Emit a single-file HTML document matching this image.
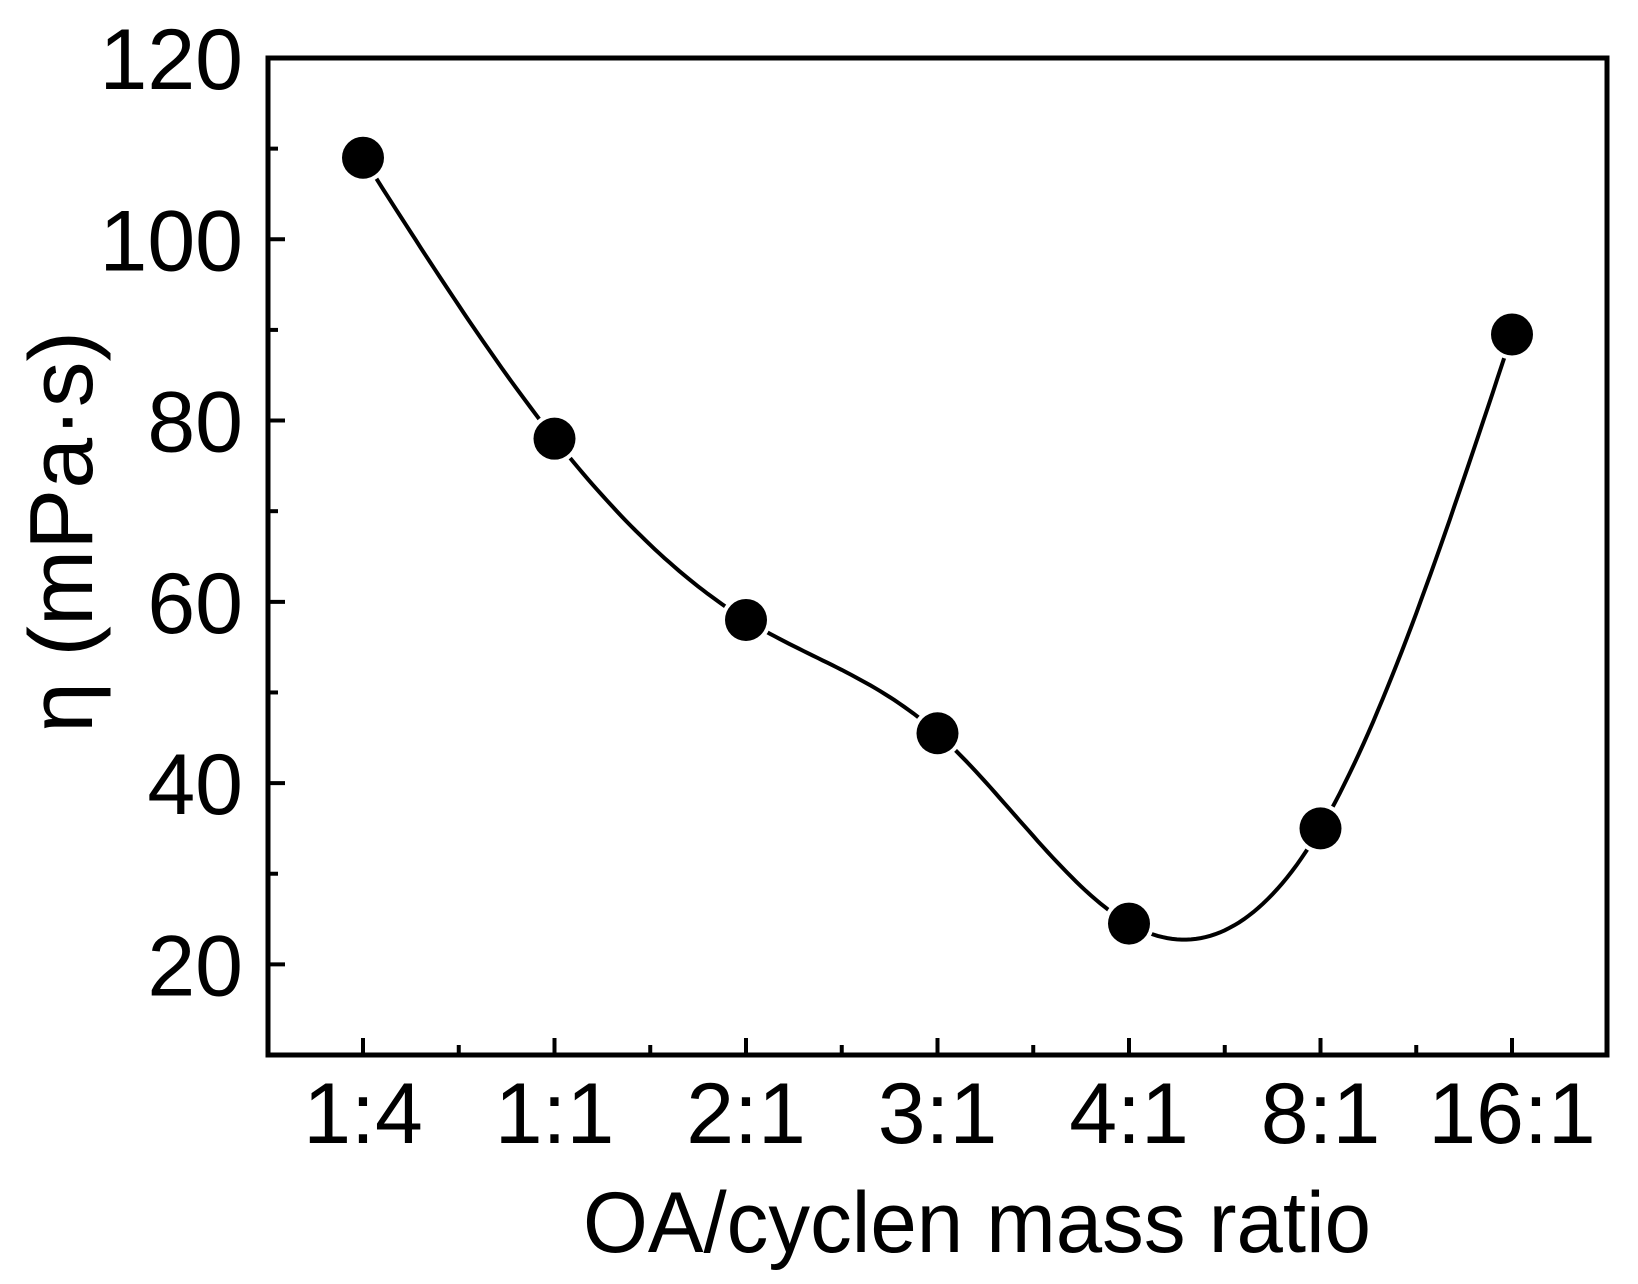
<!DOCTYPE html>
<html><head><meta charset="utf-8"><style>
html,body{margin:0;padding:0;background:#fff}
svg{display:block}
text{font-family:"Liberation Sans",Arial,sans-serif;fill:#000}
</style></head><body>
<svg id="chart" width="1638" height="1284" viewBox="0 0 1638 1284"></svg>
<script>
const categories = ["1:4","1:1","2:1","3:1","4:1","8:1","16:1"];
const viscosity = [109, 78, 58, 45.5, 24.5, 35, 89.5];
const yTicks = [20, 40, 60, 80, 100, 120];
const yMinorTicks = [10,30,50,70,90,110];

const L=268,R=1607,T=58,B=1055;
const X0=363, DX=191.5;
function xs(i){return X0+i*DX;}
function ys(v){return B-(v-10)/(120-10)*(B-T);}
const NS="http://www.w3.org/2000/svg";
const svg=document.getElementById('chart');
function mk(tag,attrs,parent){const e=document.createElementNS(NS,tag);for(const k in attrs)e.setAttribute(k,attrs[k]);(parent||svg).appendChild(e);return e;}

const n=viscosity.length, ysArr=viscosity.slice();
const al=[],l=[1],mu=[0],z=[0],c=new Array(n).fill(0),b=[],d=[];
for(let i=1;i<n-1;i++)al[i]=3*(ysArr[i+1]-ysArr[i])-3*(ysArr[i]-ysArr[i-1]);
for(let i=1;i<n-1;i++){l[i]=4-mu[i-1];mu[i]=1/l[i];z[i]=(al[i]-z[i-1])/l[i];}
for(let j=n-2;j>=0;j--){c[j]=z[j]-mu[j]*c[j+1];b[j]=(ysArr[j+1]-ysArr[j])-(c[j+1]+2*c[j])/3;d[j]=(c[j+1]-c[j])/3;}
let pd="";
for(let j=0;j<n-1;j++){for(let k=0;k<=40;k++){const t=k/40;const v=ysArr[j]+b[j]*t+c[j]*t*t+d[j]*t*t*t;pd+=(pd?"L":"M")+xs(j+t).toFixed(1)+","+ys(v).toFixed(1);}}
const curve=mk('path',{d:pd,fill:'none',stroke:'#000','stroke-width':4});



viscosity.forEach((v,i)=>{
  const c=mk('circle',{cx:xs(i),cy:ys(v),r:21,fill:'#000',stroke:'#fff','stroke-width':8,'paint-order':'stroke'});
  
  
});

const fr=mk('rect',{x:L,y:T,width:R-L,height:B-T,fill:'none',stroke:'#000','stroke-width':5});



yTicks.forEach(v=>{
  mk('line',{x1:L,x2:L+17,y1:ys(v),y2:ys(v),stroke:'#000','stroke-width':4});
  const t=mk('text',{x:243,y:ys(v)+31,'font-size':86,'text-anchor':'end'});
  t.textContent=v;
  
  
});
yMinorTicks.forEach(v=>{mk('line',{x1:L,x2:L+10,y1:ys(v),y2:ys(v),stroke:'#000','stroke-width':4});});
categories.forEach((cat,i)=>{
  mk('line',{x1:xs(i),x2:xs(i),y1:B,y2:B-17,stroke:'#000','stroke-width':4});
  if(i<n-1)mk('line',{x1:xs(i+0.5),x2:xs(i+0.5),y1:B,y2:B-10,stroke:'#000','stroke-width':4});
  const t=mk('text',{x:xs(i),y:1143,'font-size':86,'text-anchor':'middle'});
  t.textContent=cat;
  
  
});
const xt=mk('text',{x:977,y:1252,'font-size':86,'text-anchor':'middle',textLength:788,lengthAdjust:'spacingAndGlyphs'});
xt.textContent="OA/cyclen mass ratio";


const yt=mk('text',{x:0,y:0,'font-size':90,'text-anchor':'middle',transform:'translate(92,532) rotate(-90)',textLength:402,lengthAdjust:'spacingAndGlyphs'});
yt.textContent="η (mPa·s)";


</script>
</body></html>
